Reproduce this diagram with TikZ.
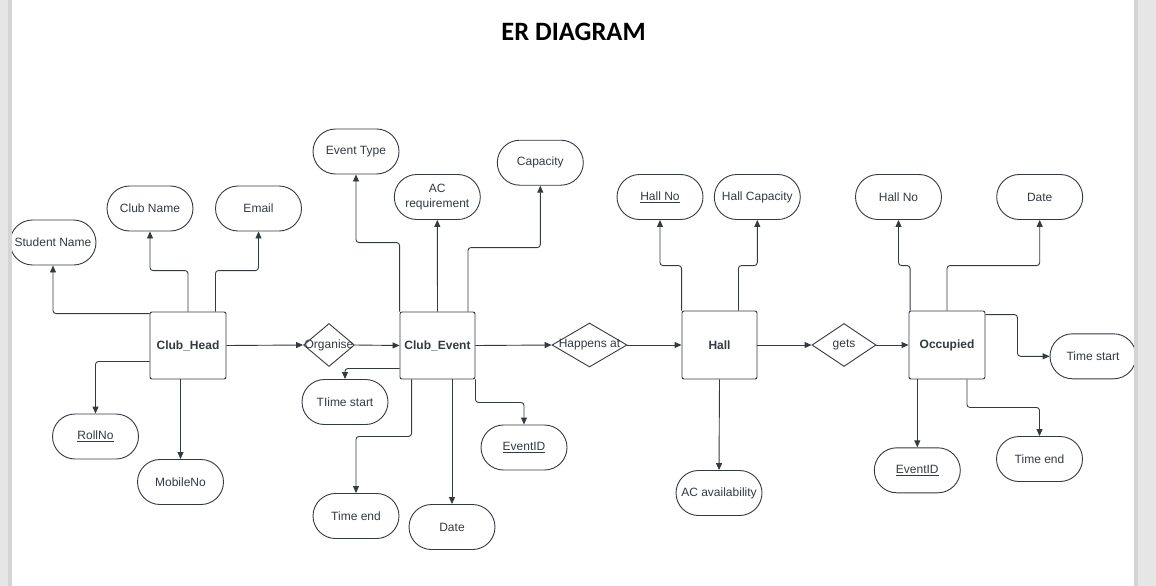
\documentclass[tikz,border=0pt]{standalone}
\usepackage{fontspec}
\setmainfont{Liberation Sans}
\newfontfamily\titlefont{Carlito}
\usetikzlibrary{arrows.meta,shapes.geometric,calc}
\definecolor{ink}{RGB}{52,58,66}
\definecolor{stripgray}{RGB}{230,230,230}
\definecolor{stripedge}{RGB}{212,212,212}
\tikzset{
  entity/.style={draw=ink, line width=0.9pt, rounded corners=2pt, minimum width=76pt, minimum height=67pt, inner sep=0pt, font=\fontsize{12}{14}\selectfont\bfseries, text=ink},
  attr/.style={draw=ink, line width=0.9pt, rounded corners=22.5pt, minimum width=86pt, minimum height=45pt, inner sep=0pt, align=center, font=\fontsize{12}{15}\selectfont, text=ink},
  rel/.style={draw=ink, line width=0.9pt, diamond, inner sep=0pt, font=\fontsize{12}{14}\selectfont, text=ink},
  conn/.style={draw=ink, line width=0.9pt, rounded corners=3pt, -{Triangle[length=7pt,width=6pt]}}
}
\begin{document}
\begin{tikzpicture}[x=1pt,y=-1pt]
\useasboundingbox (0,0) rectangle (1156,586);
\fill[white] (0,0) rectangle (1156,586);

\node[font=\titlefont\fontsize{26.5}{29}\selectfont\bfseries, text=black] (title) at (573.5,31.5) {ER DIAGRAM};

% Club_Head
\node[entity] (chead) at (188,345.5) {Club\_Head};
\node[attr] (sname) at (53,242.5) {Student Name};
\node[attr] (cname) at (150,208.5) {Club Name};
\node[attr] (email) at (258.5,208.5) {Email};
\node[attr] (rollno) at (95.5,436.5) {\underline{RollNo}};
\node[attr] (mobile) at (180.5,482) {MobileNo};
\node[rel, minimum width=51pt, minimum height=43pt, label={[name=orgl, font=\fontsize{12}{14}\selectfont, text=ink]center:Organise}] (org) at (329,345) {};

% Club_Event
\node[entity, minimum width=75pt] (cevent) at (437.5,345.5) {Club\_Event};
\node[attr] (evtype) at (356,151.5) {Event Type};
\node[attr] (acreq) at (437.3,197) {AC\\requirement};
\node[attr] (capacity) at (540.3,162.7) {Capacity};
\node[attr] (tstart1) at (345,402) {TIime start};
\node[attr] (tend1) at (356,516) {Time end};
\node[attr] (date1) at (452,527) {Date};
\node[attr] (eventid1) at (524,447.5) {\underline{EventID}};
\node[rel, minimum width=75pt, minimum height=44pt, label={[name=happl, font=\fontsize{12}{14}\selectfont, text=ink]center:Happens at}] (happ) at (589.5,345) {};

% Hall
\node[entity, minimum width=75pt, minimum height=68pt] (hall) at (719.5,345) {Hall};
\node[attr] (hallno) at (660,197) {\underline{Hall No}};
\node[attr] (hallcap) at (757.3,197) {Hall Capacity};
\node[attr] (acavail) at (719,493) {AC availability};
\node[rel, minimum width=64pt, minimum height=43pt] (gets) at (844,345) {gets};

% Occupied
\node[entity, minimum height=68pt] (occ) at (947,345) {Occupied};
\node[attr] (hallno2) at (898.5,197) {Hall No};
\node[attr] (date2) at (1039.7,197) {Date};
\node[attr] (tstart2) at (1093,356.3) {Time start};
\node[attr] (eventid2) at (917.3,470.3) {\underline{EventID}};
\node[attr] (tend2) at (1039.5,459) {Time end};

% Club_Head connectors
\draw[conn] ([yshift=-2pt]chead.north west) -| (sname.south);
\draw[conn] (chead.north) -- ++(0,-41) -| (cname.south);
\draw[conn] ([xshift=-11pt]chead.north east) -- ++(0,-41) -| (email.south);
\draw[conn] ([yshift=18pt]chead.south west) -| (rollno.north);
\draw[conn] (mobile.north |- chead.south) -- (mobile.north);
\draw[conn] (chead.east) -- (org.west);
\draw[conn] (org.east) -- (cevent.west);

% Club_Event connectors
\draw[conn] (cevent.north west) -- ++(0,-69) -| (evtype.south);
\draw[conn] (cevent.north) -- (acreq.south);
\draw[conn] ([xshift=-7.5pt]cevent.north east) -- ++(0,-64) -| (capacity.south);
\draw[conn] ([yshift=11pt]cevent.south west) -| (tstart1.north);
\draw[conn] ([xshift=12pt]cevent.south west) -- ++(0,57) -| (tend1.north);
\draw[conn] (date1.north |- cevent.south) -- (date1.north);
\draw[conn] (cevent.south east) -- ++(0,23) -| (eventid1.north);
\draw[conn] (cevent.east) -- (happ.west);
\draw[conn] (happ.east) -- (hall.west);

% Hall connectors
\draw[conn] (hall.north west) -- ++(0,-45) -| (hallno.south);
\draw[conn] ([xshift=-19pt]hall.north east) -- ++(0,-45) -| (hallcap.south);
\draw[conn] (hall.south) -- (acavail.north);
\draw[conn] (hall.east) -- (gets.west);
\draw[conn] (gets.east) -- (occ.west);

% Occupied connectors
\draw[conn] ([xshift=1.5pt]occ.north west) -- ++(0,-45) -| (hallno2.south);
\draw[conn] (occ.north) -- ++(0,-45) -| (date2.south);
\draw[conn] ([yshift=-4pt]occ.north east) -- ++(32,0) |- (tstart2.west);
\draw[conn] (eventid2.north |- occ.south) -- (eventid2.north);
\draw[conn] ([xshift=-18.5pt]occ.south east) -- ++(0,28) -| (tend2.north);

% page edges
\fill[stripgray] (0,0) rectangle (12,586);
\fill[stripedge] (8,0) rectangle (12,586);
\fill[stripgray] (1134,0) rectangle (1156,586);
\fill[stripedge] (1134,0) rectangle (1138,586);
\end{tikzpicture}
\end{document}
